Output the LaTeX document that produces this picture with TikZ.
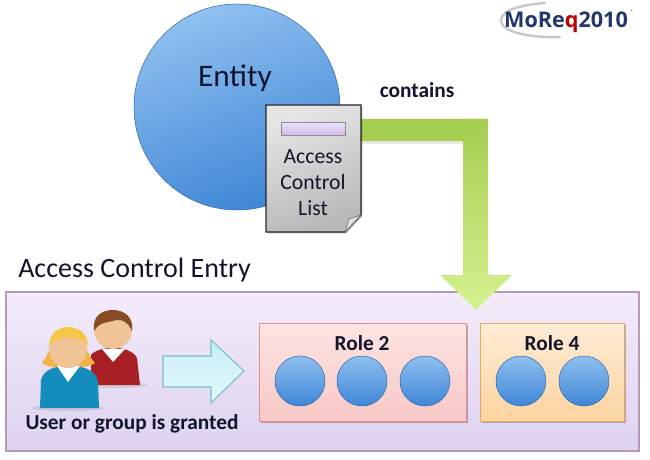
\documentclass[tikz,border=0pt]{standalone}
\usepackage{fontspec}
\setmainfont{Carlito}
\newfontfamily\logofont{Open Sans}
\usetikzlibrary{calc,shadows,positioning}
\definecolor{ink}{HTML}{14142C}
\definecolor{ballA}{HTML}{8FC0F0}
\definecolor{ballB}{HTML}{3F86D6}
\definecolor{greenA}{RGB}{165,205,80}
\definecolor{greenB}{RGB}{214,242,145}
\definecolor{redline}{RGB}{225,140,135}
\definecolor{orangeline}{RGB}{235,170,90}
\tikzset{
  txt/.style={text=ink,inner sep=0pt,align=center},
  smallball/.style={circle,minimum size=37.5pt,inner sep=0pt,draw=ballB!80!black,line width=.4pt,top color=ballA,bottom color=ballB},
  rolebox/.style={inner sep=0pt,anchor=north west,draw=#1,line width=.6pt},
  softshadow/.style={drop shadow={shadow xshift=1pt,shadow yshift=-1pt,opacity=.25,fill=black}},
  bold13/.style={txt,font=\fontsize{16}{19}\selectfont\bfseries},
}
\begin{document}
\begin{tikzpicture}[x=.75pt,y=-.75pt]
\useasboundingbox (0,0) rectangle (650,460);
% entity
\node[circle,minimum size=154.5pt,inner sep=0pt,draw=ballB!80!black,line width=.4pt,
  top color=ballA,bottom color=ballB,shading angle=20] (entity) at (237,107) {};
\node[txt,font=\fontsize{23.5}{28}\selectfont] (entityt) at (235,78) {Entity};
\node[bold13] (contains) at (417,90) {contains};
% entry label
\node[txt,anchor=west,font=\fontsize{21}{25}\selectfont] (acelabel) at (18,270) {Access Control Entry};
% main box
\path[draw=black!45!violet!40,line width=.9pt,top color={rgb,255:red,244;green,236;blue,250},
  bottom color={rgb,255:red,222;green,210;blue,240},softshadow] (6,292) rectangle (639,451);
% green arrow
\fill[black!25,opacity=.35] (361,141) -- (465,141) -- (465,144) -- (361,144) -- cycle;
\shade[top color=greenA,bottom color=greenB]
  (463,119) -- (488,119) -- (488,275) -- (512,275) -- (476,310) -- (440,275) -- (463,275) -- cycle;
\fill[greenA] (361,119) -- (488,119) -- (463,141) -- (361,141) -- cycle;
% document
\shade[draw=black!85,line width=.8pt,top color=white!90!black,bottom color=black!28,shading angle=20,softshadow]
  (266,105) -- (361,105) -- (361,215) -- (345,232) -- (266,232) -- cycle;
\fill[black!12,draw=black!60,line width=.4pt] (361,215) -- (345,232) -- (349,219) -- cycle;
\node[draw=black!45,line width=.6pt,top color={rgb,255:red,236;green,226;blue,248},bottom color={rgb,255:red,205;green,185;blue,235},
  minimum width=48pt,minimum height=10pt,inner sep=0pt] (bar) at (313,129) {};
\node[txt,font=\fontsize{16.3}{19.5}\selectfont] (acl) at (313,183) {Access\\Control\\List};
% roles
\node[rolebox=redline,minimum width=155.25pt,minimum height=73.5pt,top color={rgb,255:red,253;green,228;blue,226},
  bottom color={rgb,255:red,248;green,200;blue,198},softshadow] (role2) at (259,323) {};
\node[rolebox=orangeline,minimum width=108pt,minimum height=73.5pt,top color={rgb,255:red,254;green,236;blue,214},
  bottom color={rgb,255:red,252;green,212;blue,160},softshadow] (role4) at (480,323) {};
\node[bold13] (r2) at (362,343) {Role 2};
\node[bold13] (r4) at (552,343) {Role 4};
\foreach \n/\x in {a/300,b/362,c/425,d/521,e/584}
  \node[smallball] (\n) at (\x,381) {};
% light-blue arrow
\shade[draw={rgb,255:red,120;green,190;blue,200},line width=.8pt,top color={rgb,255:red,200;green,238;blue,246},
  bottom color={rgb,255:red,226;green,248;blue,252}]
  (163,356) -- (211,356) -- (211,340) -- (244,371) -- (211,403) -- (211,387) -- (163,387) -- cycle;
% man
\fill[black!40,opacity=.3] (115,385) ellipse (32 and 3);
\fill[color={rgb,255:red,168;green,32;blue,36}] (91,385) -- (91,355) .. controls (98,346) and (130,344) .. (137,358) -- (140,385) -- cycle;
\fill[white] (102,349) -- (125,349) -- (113,362) -- cycle;
\fill[color={rgb,255:red,240;green,196;blue,150}] (113,330) circle (19);
\fill[color={rgb,255:red,136;green,76;blue,36}] (94,331) .. controls (92,316) and (102,310) .. (113,310)
  .. controls (125,310) and (134,318) .. (132,331) .. controls (128,322) and (122,319) .. (116,320)
  .. controls (108,323) and (100,321) .. (94,331) -- cycle;
% woman
\fill[black!40,opacity=.3] (68,408) ellipse (36 and 3);
\fill[color={rgb,255:red,240;green,180;blue,70}] (42,363) .. controls (50,355) and (50,335) .. (68,327)
  .. controls (86,335) and (86,355) .. (95,363) .. controls (85,370) and (50,370) .. cycle;
\fill[color={rgb,255:red,20;green,140;blue,190}] (40,408) -- (41,380) .. controls (44,368) and (58,366) .. (68,366)
  .. controls (80,366) and (96,368) .. (98,382) -- (99,408) -- cycle;
\fill[white] (57,366) -- (80,366) -- (68,382) -- cycle;
\fill[color={rgb,255:red,240;green,196;blue,150}] (68,349) circle (19);
\fill[color={rgb,255:red,244;green,200;blue,70}] (49,345) .. controls (50,332) and (60,327) .. (68,327)
  .. controls (78,327) and (87,333) .. (88,345) .. controls (80,335) and (58,335) .. (49,345) -- cycle;
\node[txt,font=\fontsize{16}{19}\selectfont\bfseries] (granted) at (132,424) {User or group is granted};
% logo
\draw[black!22,line width=1.8pt,line cap=round] (545,3) .. controls (520,5) and (502,10) .. (501,20)
  .. controls (500,32) and (530,38) .. (560,37);
\node[inner sep=0pt,font=\logofont\fontsize{16.2}{19}\selectfont\bfseries,text={rgb,255:red,35;green,55;blue,110}] (logo) at (566,22)
  {MoRe{\color{red!75!black}q}2010};
\node[inner sep=0pt,font=\fontsize{5}{6}\selectfont,text=black!60] (reg) at (632,12) {®};
\end{tikzpicture}
\end{document}
